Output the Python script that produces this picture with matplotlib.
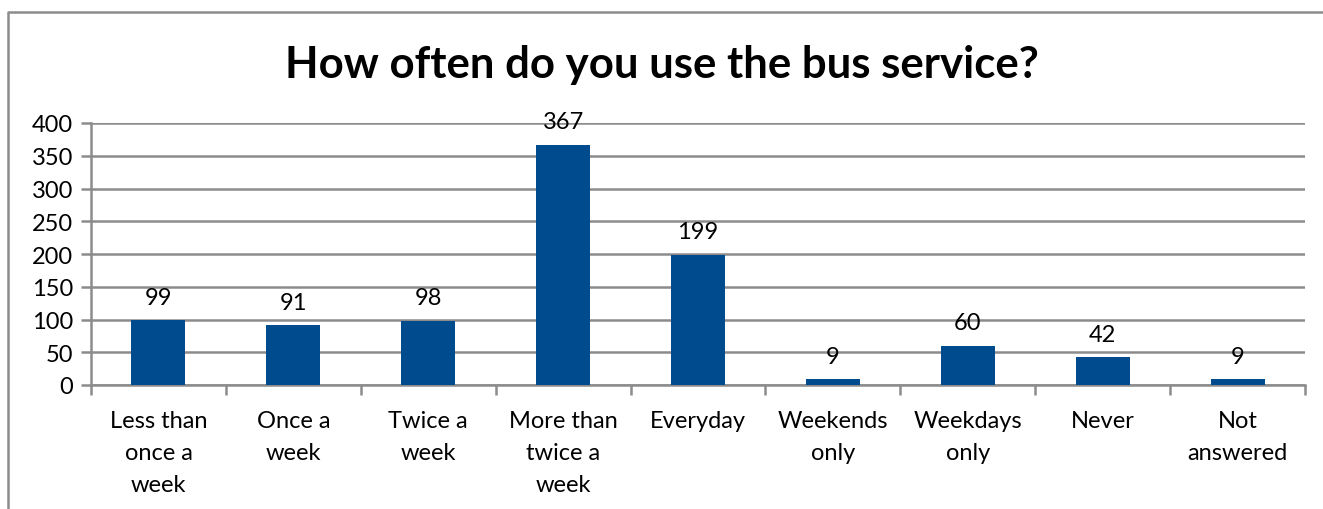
import matplotlib.pyplot as plt
import numpy as np
from matplotlib.lines import Line2D

categories = ['Less than\nonce a\nweek', 'Once a\nweek', 'Twice a\nweek', 'More than\ntwice a\nweek',
              'Everyday', 'Weekends\nonly', 'Weekdays\nonly', 'Never', 'Not\nanswered']
counts = [99, 91, 98, 367, 199, 9, 60, 42, 9]

plt.rcParams['font.family'] = ['Lato', 'DejaVu Sans']
grey = '#8c8c8c'

fig = plt.figure(figsize=(13.23, 5.10), dpi=100)
ax = fig.add_axes([91/1323, 1-386/510, (1305-91)/1323, (386-124)/510])

# chart border (only left and top show in the crop)
bx, by = 7.5/1323, 1-12.5/510
fig.lines.append(Line2D([bx, bx, 1.05], [-0.05, by, by], transform=fig.transFigure,
                        color=grey, linewidth=1.8))

x = np.arange(len(categories))
ax.bar(x, counts, width=0.40, color='#004b8d', zorder=3)

for xi, v in zip(x, counts):
    ax.annotate(str(v), (xi, v), xytext=(0, 9), textcoords='offset points',
                ha='center', va='bottom', fontsize=17)

ax.set_xlim(-0.5, len(categories) - 0.5)
ax.set_ylim(0, 400)
ax.set_yticks(range(0, 401, 50))
ax.yaxis.grid(True, color=grey, linewidth=1.8, zorder=0)
ax.set_axisbelow(True)

ax.set_xticks(np.arange(len(categories) + 1) - 0.5, minor=False)
ax.set_xticklabels([])
ax.set_xticks(x, minor=True)
ax.set_xticklabels(categories, minor=True, fontsize=17, linespacing=1.65)
ax.tick_params(axis='x', which='major', length=7, width=1.8, color=grey)
ax.tick_params(axis='x', which='minor', length=0, pad=18)
ax.tick_params(axis='y', length=7, width=1.8, color=grey, labelsize=17, pad=6)

for s in ['top', 'right']:
    ax.spines[s].set_visible(False)
for s in ['left', 'bottom']:
    ax.spines[s].set_color(grey)
    ax.spines[s].set_linewidth(1.8)

fig.text(0.5, 1-65/510, 'How often do you use the bus service?', ha='center', va='center',
         fontsize=31.5, fontweight='bold')

fig.savefig('out.png', dpi=100)
